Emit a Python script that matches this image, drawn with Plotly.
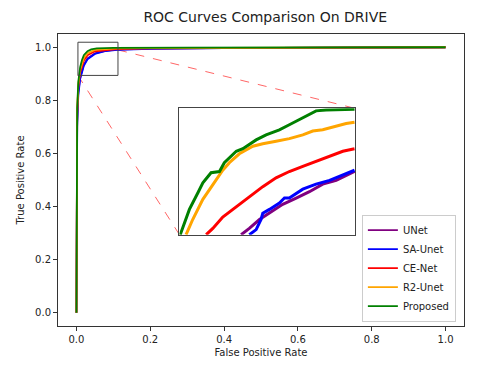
import plotly.graph_objects as go

# curvas ROC completas (FPR, TPR)
modelos = ["UNet", "SA-Unet", "CE-Net", "R2-Unet", "Proposed"]
cores = ["purple", "blue", "red", "orange", "green"]

fpr_unet = [0.0, 0.0, 0.002, 0.005, 0.01, 0.02, 0.03, 0.05, 0.08, 0.11, 0.2, 0.4, 0.7, 1.0]
tpr_unet = [0.0, 0.5, 0.72, 0.83, 0.885, 0.935, 0.958, 0.977, 0.987, 0.991, 0.995, 0.997, 0.999, 1.0]
fpr_saunet = [0.0, 0.0, 0.002, 0.005, 0.01, 0.02, 0.03, 0.05, 0.08, 0.11, 0.2, 0.4, 0.7, 1.0]
tpr_saunet = [0.0, 0.5, 0.7, 0.82, 0.88, 0.93, 0.955, 0.975, 0.986, 0.99, 0.994, 0.997, 0.999, 1.0]
fpr_cenet = [0.0, 0.0, 0.002, 0.005, 0.01, 0.02, 0.03, 0.05, 0.08, 0.11, 0.2, 0.4, 0.7, 1.0]
tpr_cenet = [0.0, 0.55, 0.75, 0.85, 0.905, 0.95, 0.97, 0.985, 0.99, 0.993, 0.996, 0.998, 0.999, 1.0]
fpr_r2unet = [0.0, 0.0, 0.002, 0.005, 0.01, 0.02, 0.03, 0.05, 0.08, 0.11, 0.2, 0.4, 0.7, 1.0]
tpr_r2unet = [0.0, 0.55, 0.76, 0.86, 0.915, 0.96, 0.978, 0.99, 0.994, 0.996, 0.997, 0.998, 0.999, 1.0]
fpr_prop = [0.0, 0.0, 0.002, 0.005, 0.01, 0.015, 0.02, 0.03, 0.04, 0.055, 0.1, 0.3, 0.7, 1.0]
tpr_prop = [0.0, 0.55, 0.77, 0.87, 0.925, 0.952, 0.97, 0.985, 0.992, 0.996, 0.998, 0.999, 0.9995, 1.0]

# pontos da região ampliada (inset)
zx_unet = [0.0416, 0.0458, 0.0510, 0.0561, 0.0629, 0.0698, 0.0766, 0.0834, 0.0903, 0.0997]
zy_unet = [0.900, 0.905, 0.912, 0.917, 0.924, 0.929, 0.934, 0.940, 0.943, 0.950]
zx_saunet = [0.0458, 0.0493, 0.0518, 0.0527, 0.0561, 0.0612, 0.0638, 0.0663, 0.0732, 0.0800, 0.0869, 0.0937, 0.0997]
zy_saunet = [0.900, 0.904, 0.912, 0.917, 0.920, 0.925, 0.929, 0.929, 0.936, 0.940, 0.943, 0.947, 0.951]
zx_cenet = [0.0237, 0.0271, 0.0322, 0.0391, 0.0458, 0.0527, 0.0595, 0.0663, 0.0732, 0.0800, 0.0869, 0.0937, 0.0997]
zy_cenet = [0.900, 0.905, 0.914, 0.922, 0.930, 0.938, 0.945, 0.950, 0.954, 0.958, 0.962, 0.966, 0.968]
zx_r2unet = [0.0134, 0.0168, 0.0220, 0.0254, 0.0305, 0.0322, 0.0356, 0.0407, 0.0476, 0.0527, 0.0595,
             0.0663, 0.0732, 0.0783, 0.0834, 0.0903, 0.0954, 0.0997]
zy_r2unet = [0.900, 0.912, 0.928, 0.936, 0.947, 0.951, 0.957, 0.964, 0.970, 0.972, 0.974,
             0.976, 0.979, 0.982, 0.983, 0.986, 0.988, 0.989]
zx_prop = [0.0104, 0.0151, 0.0194, 0.0220, 0.0262, 0.0305, 0.0330, 0.0391, 0.0425, 0.0493, 0.0544,
           0.0612, 0.0663, 0.0715, 0.0766, 0.0800, 0.0851, 0.0937, 0.0997]
zy_prop = [0.900, 0.920, 0.933, 0.941, 0.949, 0.950, 0.957, 0.966, 0.968, 0.975, 0.979,
           0.983, 0.987, 0.991, 0.995, 0.998, 0.9987, 0.9992, 0.9992]

curvas = [(fpr_unet, tpr_unet), (fpr_saunet, tpr_saunet), (fpr_cenet, tpr_cenet),
          (fpr_r2unet, tpr_r2unet), (fpr_prop, tpr_prop)]
zoom = [(zx_unet, zy_unet), (zx_saunet, zy_saunet), (zx_cenet, zy_cenet),
        (zx_r2unet, zy_r2unet), (zx_prop, zy_prop)]

# faixas dos eixos
faixa = [-0.05, 1.05]
zoom_x = [0.01, 0.10]
zoom_y = [0.90, 1.00]
# retângulo marcado no gráfico principal e posição do inset (em coordenadas de dados)
ret_x, ret_y = [0.004, 0.1125], [0.894, 1.019]
inset_x, inset_y = [0.279, 0.755], [0.294, 0.770]


def dom(v):
    return (v - faixa[0]) / (faixa[1] - faixa[0])


fig = go.Figure()
for nome, cor, (x, y) in zip(modelos, cores, curvas):
    fig.add_trace(go.Scatter(x=x, y=y, mode="lines", name=nome,
                             line=dict(color=cor, width=1.8), xaxis="x", yaxis="y"))
for nome, cor, (x, y) in zip(modelos, cores, zoom):
    fig.add_trace(go.Scatter(x=x, y=y, mode="lines", name=nome, showlegend=False,
                             line=dict(color=cor, width=3), xaxis="x2", yaxis="y2"))

eixo = dict(range=faixa, showgrid=False, zeroline=False, showline=True, mirror=True,
            linecolor="#333", linewidth=1, ticks="outside", ticklen=4, tickcolor="#333",
            tickvals=[0, 0.2, 0.4, 0.6, 0.8, 1.0], tickformat=".1f", automargin=False,
            tickfont=dict(size=10, color="#222"))

# a página tem 8px de margem no body, por isso a figura é 8px menor
fig.update_layout(
    width=472, height=358,
    margin=dict(l=50, r=16, t=26, b=40),
    paper_bgcolor="white", plot_bgcolor="white",
    font=dict(family="DejaVu Sans", color="#222"),
    title=dict(text="ROC Curves Comparison On DRIVE", x=0.545, xanchor="center",
               y=0.975, yanchor="middle", font=dict(size=14)),
    xaxis=dict(eixo, title=dict(text="False Positive Rate", font=dict(size=10), standoff=4)),
    yaxis=dict(eixo, title=dict(text="True Positive Rate", font=dict(size=10), standoff=8)),
    xaxis2=dict(domain=[dom(inset_x[0]), dom(inset_x[1])], anchor="y2", range=zoom_x,
                showgrid=False, zeroline=False, showticklabels=False, ticks="",
                showline=True, mirror=True, linecolor="#444", linewidth=1),
    yaxis2=dict(domain=[dom(inset_y[0]), dom(inset_y[1])], anchor="x2", range=zoom_y,
                showgrid=False, zeroline=False, showticklabels=False, ticks="",
                showline=True, mirror=True, linecolor="#444", linewidth=1),
    legend=dict(x=0.98, xanchor="right", y=0.015, yanchor="bottom",
                bgcolor="rgba(255,255,255,0.9)", bordercolor="#ccc", borderwidth=1,
                font=dict(size=10), tracegroupgap=0, itemwidth=30),
    showlegend=True,
)

# retângulo de zoom e linhas tracejadas de ligação
fig.add_shape(type="rect", xref="x", yref="y", x0=ret_x[0], x1=ret_x[1], y0=ret_y[0], y1=ret_y[1],
              line=dict(color="#444", width=1))
fig.add_shape(type="line", xref="x", yref="y", x0=ret_x[1], y0=0.99, x1=inset_x[1], y1=inset_y[1],
              line=dict(color="rgba(255,0,0,0.6)", width=1, dash="dash"), layer="below")
fig.add_shape(type="line", xref="x", yref="y", x0=ret_x[0], y0=ret_y[0], x1=inset_x[0], y1=inset_y[0],
              line=dict(color="rgba(255,0,0,0.6)", width=1, dash="dash"), layer="below")

fig.write_html("out.html")
